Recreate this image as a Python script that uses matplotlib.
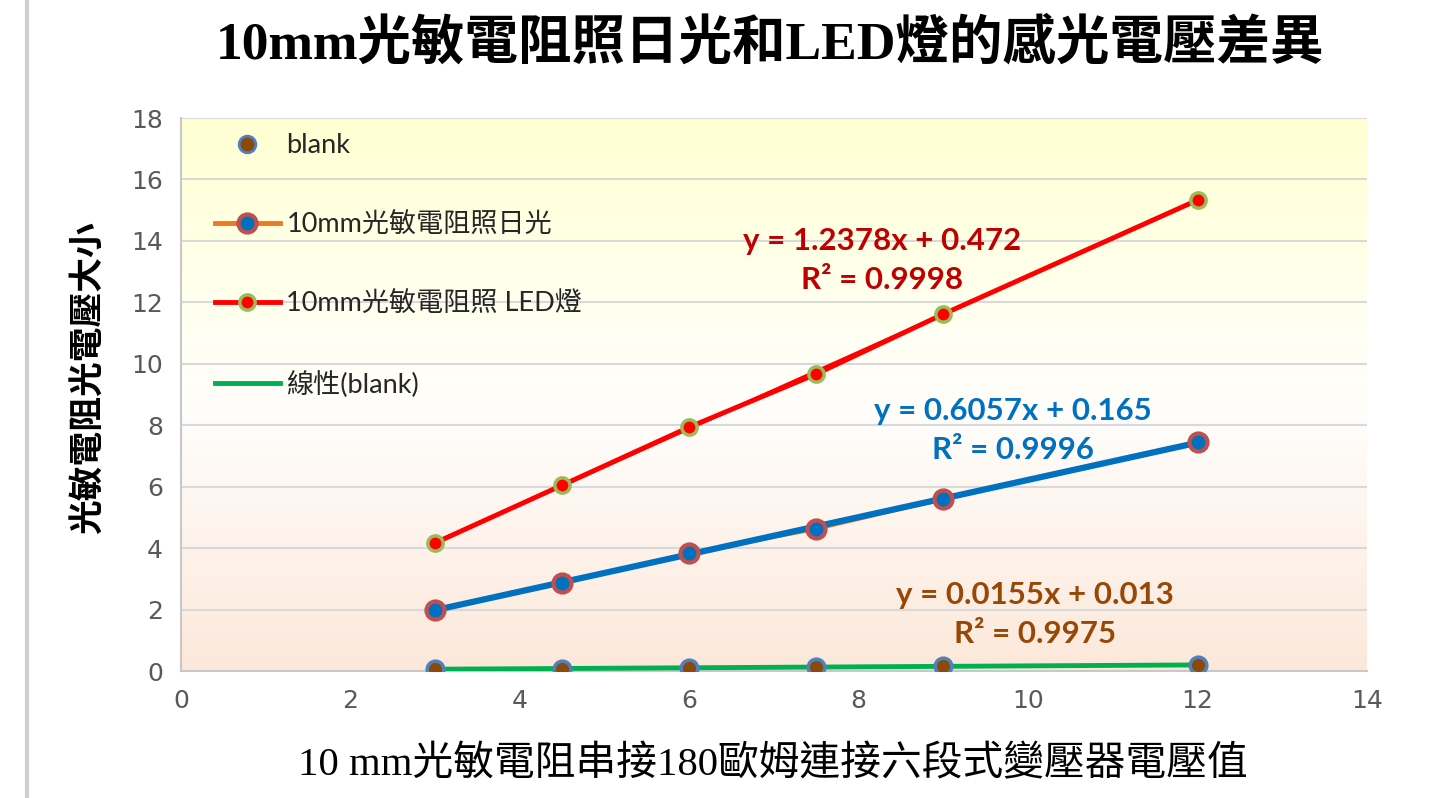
import numpy as np
import matplotlib
matplotlib.use("Agg")
import matplotlib.pyplot as plt
from matplotlib.colors import LinearSegmentedColormap
from matplotlib.lines import Line2D

# transformer voltage settings (V)
volts = [3, 4.5, 6, 7.5, 9, 12]

# measured photoresistor voltage
blank = [0.06, 0.08, 0.10, 0.13, 0.15, 0.20]
sunlight = [1.99, 2.86, 3.84, 4.62, 5.60, 7.45]
led = [4.17, 6.05, 7.94, 9.67, 11.62, 15.33]

# linear trendline results: slope, intercept, R^2
fit_led = (1.2378, 0.472, 0.9998)
fit_sun = (0.6057, 0.165, 0.9996)
fit_blank = (0.0155, 0.013, 0.9975)

title = "10mm光敏電阻照日光和LED燈的感光電壓差異"
xlabel = "10 mm光敏電阻串接180歐姆連接六段式變壓器電壓值"
ylabel = "光敏電阻光電壓大小"
names = ["blank", "10mm光敏電阻照日光", "10mm光敏電阻照 LED燈", "線性(blank)"]

serif = ["Liberation Serif", "Noto Sans CJK TC"]
sans = ["Lato", "Noto Sans CJK TC", "DejaVu Sans"]
plt.rcParams["font.family"] = sans

fig = plt.figure(figsize=(14.47, 7.98), dpi=100)
ax = fig.add_axes([0.1251, 0.1591, 0.8196, 0.6930])

# soft yellow -> white -> peach fill behind the plot area
bg = LinearSegmentedColormap.from_list(
    "bg", [(0.0, "#fce8da"), (0.45, "#fffdfb"), (0.6, "#fffff4"), (1.0, "#ffffd2")])
grad = np.linspace(0, 1, 256).reshape(-1, 1)
ax.imshow(grad, cmap=bg, aspect="auto", origin="lower", extent=[0, 1, 0, 1],
          transform=ax.transAxes, zorder=0)

ax.set_xlim(0, 14)
ax.set_ylim(0, 18)
ax.set_xticks(range(0, 15, 2))
ax.set_yticks(range(0, 19, 2))
ax.tick_params(length=0, labelsize=18, labelcolor="#595959",
               labelfontfamily="DejaVu Sans")
ax.tick_params(axis="x", pad=13)
ax.tick_params(axis="y", pad=13)
ax.grid(axis="y", color="#d9d9d9", lw=1.5, zorder=1)
for side in ["top", "right"]:
    ax.spines[side].set_visible(False)
for side in ["left", "bottom"]:
    ax.spines[side].set_color("#c8c8c8")
    ax.spines[side].set_linewidth(1.5)

xs = np.array([volts[0], volts[-1]])

# sunlight series (orange) with blue trendline on top
ax.plot(volts, sunlight, color="#f07820", lw=2.5, zorder=3)
ax.plot(xs, fit_sun[0] * xs + fit_sun[1], color="#0070c0", lw=4.5, zorder=4)
ax.plot(volts, sunlight, ls="none", marker="o", ms=13, mfc="#0070c0",
        mec="#c0504d", mew=3, zorder=5)

# LED series and its trendline
ax.plot(volts, led, color="#ff0000", lw=3.5, zorder=3)
ax.plot(xs, fit_led[0] * xs + fit_led[1], color="#ff0000", lw=2.5, zorder=4)
ax.plot(volts, led, ls="none", marker="o", ms=11, mfc="#ff0000",
        mec="#9bbb59", mew=2.5, zorder=5)

# blank: markers only, green trendline
ax.plot(xs, fit_blank[0] * xs + fit_blank[1], color="#00b050", lw=3.5, zorder=4)
ax.plot(volts, blank, ls="none", marker="o", ms=12, mfc="#8b4a0b",
        mec="#4f81bd", mew=2.5, zorder=5)


def eq_text(x, y, fit, color):
    ax.text(x, y, f"y = {fit[0]}x + {fit[1]}", color=color, fontsize=22.5,
            fontweight="bold", ha="center", va="center", zorder=6)
    ax.text(x, y - 1.27, f"R² = {fit[2]}", color=color, fontsize=22.5,
            fontweight="bold", ha="center", va="center", zorder=6)


eq_text(8.28, 14.0, fit_led, "#c00000")
eq_text(9.82, 8.46, fit_sun, "#0070c0")
eq_text(10.08, 2.47, fit_blank, "#974806")

handles = [
    Line2D([], [], ls="none", marker="o", ms=12, mfc="#8b4a0b", mec="#4f81bd", mew=2),
    Line2D([], [], color="#f07820", lw=3.5, marker="o", ms=13, mfc="#0070c0",
           mec="#c0504d", mew=3),
    Line2D([], [], color="#ff0000", lw=3.5, marker="o", ms=11, mfc="#ff0000",
           mec="#9bbb59", mew=2.5),
    Line2D([], [], color="#00b050", lw=3.5),
]
leg = ax.legend(handles, names, loc="upper left", bbox_to_anchor=(0.01, 1.012),
                frameon=False, fontsize=19.5, handlelength=2.4, labelspacing=2.0,
                handletextpad=0.25, borderpad=0.3, borderaxespad=0.5)
for t in leg.get_texts():
    t.set_color("#262626")
leg.set_zorder(7)

fig.text(0.532, 0.945, title, ha="center", va="center", fontsize=38.5,
         fontweight="bold", family=serif)
fig.text(0.534, 0.041, xlabel, ha="center", va="center", fontsize=29.3,
         family=serif)
fig.text(0.062, 0.527, ylabel, ha="center", va="center", rotation=90,
         fontsize=25, fontweight="bold", family=serif)

# thin frame edge on the far left
fig.add_artist(Line2D([0.019, 0.019], [0, 1], color="#d0d0d0", lw=3,
                      transform=fig.transFigure))

fig.savefig("out.png", dpi=100)
